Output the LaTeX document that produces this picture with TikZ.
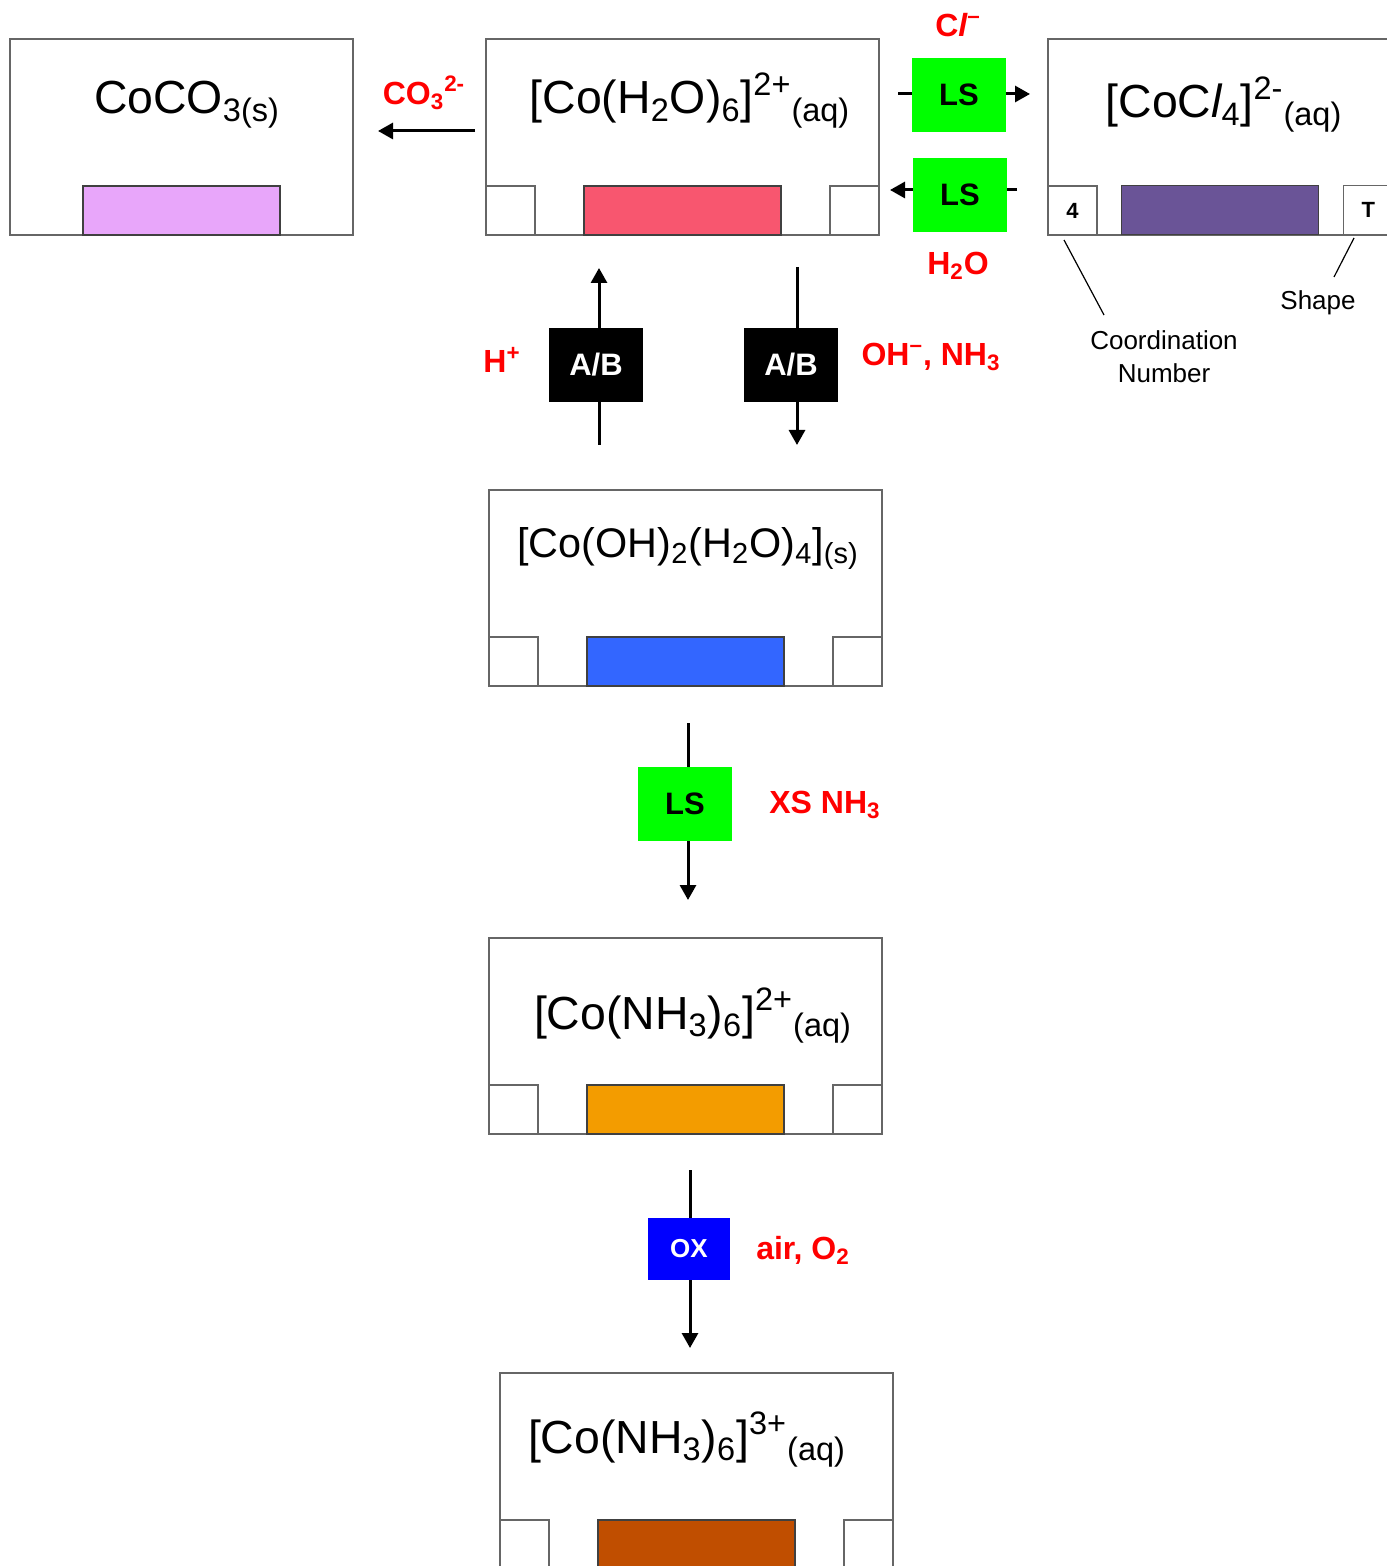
\documentclass[tikz,border=0pt]{standalone}
\usepackage{fontspec}
\setmainfont{Liberation Sans}
\usetikzlibrary{arrows.meta}
\definecolor{lsgreen}{HTML}{00FF00}
\definecolor{oxblue}{HTML}{0000FF}
\definecolor{lilac}{HTML}{E8A6FA}
\definecolor{pinkred}{HTML}{F8566F}
\definecolor{deeppurple}{HTML}{6A5497}
\definecolor{brightblue}{HTML}{3366FF}
\definecolor{amber}{HTML}{F39C00}
\definecolor{rust}{HTML}{C04E00}
\begin{document}
\begin{tikzpicture}[x=0.5pt, y=-0.5pt,
  complexbox/.style={draw=black!60, line width=0.7pt, minimum width=196.5pt, minimum height=98pt, inner sep=0pt},
  colorbar/.style={draw=black!75, line width=0.7pt, minimum width=98.5pt, minimum height=24.5pt, inner sep=0pt, anchor=south},
  cornersq/.style={draw=black!60, line width=0.7pt, minimum width=24.5pt, minimum height=24.5pt, inner sep=0pt, font=\bfseries\fontsize{11}{13}\selectfont},
  formula/.style={anchor=base, font=\fontsize{23.2}{28}\selectfont},
  condbox/.style={minimum width=47pt, minimum height=37pt, inner sep=0pt, font=\bfseries\fontsize{15.5}{18}\selectfont},
  reagent/.style={text=red, font=\bfseries\fontsize{16}{19}\selectfont},
  annotext/.style={font=\fontsize{13}{16.5}\selectfont, align=center},
  conn/.style={line width=1.5pt},
  rxn/.style={conn, -{Triangle[width=8pt,length=7.5pt]}}]

  \useasboundingbox (0,0) rectangle (1386,1566);

  % CoCO3
  \node[complexbox, minimum width=171.5pt] (coco3) at (181.5,137) {};
  \node[formula] (coco3f) at (187,114) {CoCO\textsubscript{3(s)}};
  \node[colorbar, fill=lilac] (coco3bar) at (coco3.south) {};

  % [Co(H2O)6]2+
  \node[complexbox] (hexaaqua) at (682.5,137) {};
  \node[formula] (hexaaquaf) at (690,114) {[Co(H\textsubscript{2}O)\textsubscript{6}]\textsuperscript{2+}\textsubscript{(aq)}};
  \node[colorbar, fill=pinkred] (hexaaquabar) at (hexaaqua.south) {};
  \node[cornersq, anchor=south west] (hexaaquacn) at (hexaaqua.south west) {};
  \node[cornersq, anchor=south east] (hexaaquash) at (hexaaqua.south east) {};

  % [CoCl4]2-
  \node[complexbox] (cocl4) at (1244.5,137) {};
  \node[formula] (cocl4f) at (1224,118) {[CoC{\itshape l}\textsubscript{4}]\textsuperscript{2-}\textsubscript{(aq)}};
  \node[colorbar, fill=deeppurple] (cocl4bar) at (1220,235) {};
  \node[cornersq, anchor=south west] (cocl4cn) at (cocl4.south west) {4};
  \node[cornersq, anchor=south west] (cocl4sh) at (1343,235) {T};

  % [Co(OH)2(H2O)4]
  \node[complexbox] (hydroxide) at (685.5,588) {};
  \node[formula, font=\fontsize{20.7}{25}\selectfont] (hydroxidef) at (688,557) {[Co(OH)\textsubscript{2}(H\textsubscript{2}O)\textsubscript{4}]\textsubscript{(s)}};
  \node[colorbar, fill=brightblue] (hydroxidebar) at (hydroxide.south) {};
  \node[cornersq, anchor=south west] (hydroxidecn) at (hydroxide.south west) {};
  \node[cornersq, anchor=south east] (hydroxidesh) at (hydroxide.south east) {};

  % [Co(NH3)6]2+
  \node[complexbox] (ammineii) at (685.5,1036) {};
  \node[formula] (ammineiif) at (693,1029) {[Co(NH\textsubscript{3})\textsubscript{6}]\textsuperscript{2+}\textsubscript{(aq)}};
  \node[colorbar, fill=amber] (ammineiibar) at (ammineii.south) {};
  \node[cornersq, anchor=south west] (ammineiicn) at (ammineii.south west) {};
  \node[cornersq, anchor=south east] (ammineiish) at (ammineii.south east) {};

  % [Co(NH3)6]3+
  \node[complexbox] (ammineiii) at (696.5,1471) {};
  \node[formula] (ammineiiif) at (687,1453) {[Co(NH\textsubscript{3})\textsubscript{6}]\textsuperscript{3+}\textsubscript{(aq)}};
  \node[colorbar, fill=rust] (ammineiiibar) at (ammineiii.south) {};
  \node[cornersq, anchor=south west] (ammineiiicn) at (ammineiii.south west) {};
  \node[cornersq, anchor=south east] (ammineiiish) at (ammineiii.south east) {};

  % carbonate
  \coordinate (co3in) at (475,131);
  \coordinate (co3out) at (378,131);
  \draw[rxn] (co3in) -- (co3out);
  \node[reagent] (co3) at (424,93) {CO\textsubscript{3}\textsuperscript{2-}};

  % chloride, forward
  \node[condbox, fill=lsgreen] (lsfwd) at (959,95) {LS};
  \coordinate (lsfwdin) at (898,94);
  \coordinate (lsfwdout) at (1030,94);
  \draw[conn] (lsfwdin) -- (lsfwdin -| lsfwd.west);
  \draw[rxn] (lsfwdout -| lsfwd.east) -- (lsfwdout);
  \node[reagent] (chloride) at (958,25) {C{\itshape l}\textsuperscript{–}};

  % water, reverse
  \node[condbox, fill=lsgreen] (lsrev) at (960,195) {LS};
  \coordinate (lsrevin) at (1017,190);
  \coordinate (lsrevout) at (890,190);
  \draw[conn] (lsrevin) -- (lsrevin -| lsrev.east);
  \draw[rxn] (lsrevout -| lsrev.west) -- (lsrevout);
  \node[reagent] (water) at (958,266) {H\textsubscript{2}O};

  % acid
  \node[condbox, fill=black, text=white] (abup) at (596,365) {A/B};
  \coordinate (abupin) at (599,445);
  \coordinate (abupout) at (599,268);
  \draw[conn] (abupin) -- (abupin |- abup.south);
  \draw[rxn] (abupout |- abup.north) -- (abupout);
  \node[reagent] (acid) at (502,360) {H\textsuperscript{+}};

  % base
  \node[condbox, fill=black, text=white] (abdown) at (791,365) {A/B};
  \coordinate (abdownin) at (797,267);
  \coordinate (abdownout) at (797,445);
  \draw[conn] (abdownin) -- (abdownin |- abdown.north);
  \draw[rxn] (abdownout |- abdown.south) -- (abdownout);
  \node[reagent] (base) at (931,357) {OH\textsuperscript{–}, NH\textsubscript{3}};

  % excess ammonia
  \node[condbox, fill=lsgreen] (lsdown) at (685,804) {LS};
  \coordinate (lsdownin) at (688,723);
  \coordinate (lsdownout) at (688,900);
  \draw[conn] (lsdownin) -- (lsdownin |- lsdown.north);
  \draw[rxn] (lsdownout |- lsdown.south) -- (lsdownout);
  \node[reagent] (xsnh3) at (825,805) {XS NH\textsubscript{3}};

  % oxidation
  \node[condbox, fill=oxblue, text=white, minimum width=41pt, minimum height=31pt, font=\bfseries\fontsize{13}{16}\selectfont] (ox) at (689,1249) {OX};
  \coordinate (oxin) at (690,1170);
  \coordinate (oxout) at (690,1348);
  \draw[conn] (oxin) -- (oxin |- ox.north);
  \draw[rxn] (oxout |- ox.south) -- (oxout);
  \node[reagent] (air) at (803,1250) {air, O\textsubscript{2}};

  % key
  \coordinate (cnfoot) at (1064,240);
  \coordinate (cnhead) at (1104,315);
  \draw[line width=0.6pt] (cnfoot) -- (cnhead);
  \node[annotext] (cnlabel) at (1164,357) {Coordination\\Number};
  \coordinate (shfoot) at (1354,238);
  \coordinate (shhead) at (1334,277);
  \draw[line width=0.6pt] (shfoot) -- (shhead);
  \node[annotext] (shlabel) at (1318,303) {Shape};
\end{tikzpicture}
\end{document}
